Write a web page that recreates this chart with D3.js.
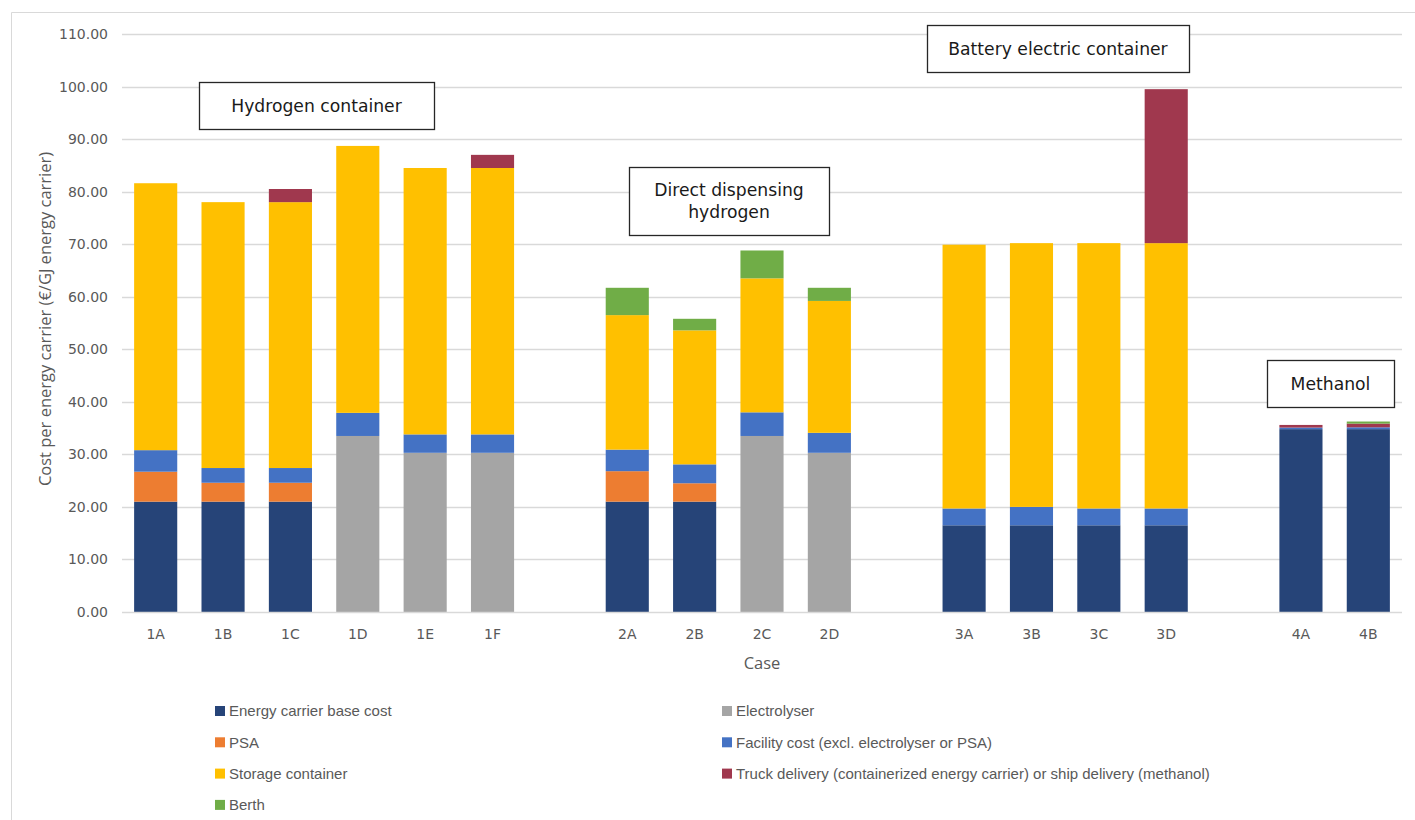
<!DOCTYPE html>
<html>
<head>
<meta charset="utf-8">
<script src="https://cdn.jsdelivr.net/npm/d3@7"></script>
<style>
  html, body { margin: 0; padding: 0; background: #fff; }
  svg { display: block; }
</style>
</head>
<body>
<svg id="chart" width="1415" height="820"></svg>
<script>
// Case groups (a blank slot separates each group on the x axis)
const groups = [
  ["1A", "1B", "1C", "1D", "1E", "1F"],
  ["2A", "2B", "2C", "2D"],
  ["3A", "3B", "3C", "3D"],
  ["4A", "4B"]
];
const cases = groups.flat();

// Cost components per case, €/GJ energy carrier
const baseCost     = [21.0, 21.0, 21.0, 0, 0, 0,   21.0, 21.0, 0, 0,   16.5, 16.5, 16.5, 16.5,   34.8, 34.8];
const electrolyser = [0, 0, 0, 33.5, 30.3, 30.3,   0, 0, 33.5, 30.3,   0, 0, 0, 0,   0, 0];
const psa          = [5.7, 3.6, 3.6, 0, 0, 0,      5.8, 3.5, 0, 0,     0, 0, 0, 0,   0, 0];
const facility     = [4.1, 2.8, 2.8, 4.4, 3.5, 3.5,   4.1, 3.6, 4.5, 3.8,   3.2, 3.5, 3.2, 3.2,   0.3, 0.35];
const storage      = [50.8, 50.6, 50.6, 50.8, 50.7, 50.7,   25.6, 25.5, 25.5, 25.1,   50.2, 50.2, 50.5, 50.5,   0, 0];
const truck        = [0, 0, 2.5, 0, 0, 2.5,   0, 0, 0, 0,   0, 0, 0, 29.3,   0.5, 0.7];
const berth        = [0, 0, 0, 0, 0, 0,   5.2, 2.2, 5.3, 2.5,   0, 0, 0, 0,   0, 0.4];

const seriesNames = [
  "Energy carrier base cost",
  "Electrolyser",
  "PSA",
  "Facility cost (excl. electrolyser or PSA)",
  "Storage container",
  "Truck delivery (containerized energy carrier) or ship delivery (methanol)",
  "Berth"
];
const seriesValues = [baseCost, electrolyser, psa, facility, storage, truck, berth];
const seriesColors = ["#264478", "#A5A5A5", "#ED7D31", "#4472C4", "#FFC000", "#A0384E", "#70AD47"];

const yTicks = [0, 10, 20, 30, 40, 50, 60, 70, 80, 90, 100, 110];

const groupLabels = [
  { lines: ["Hydrogen container"], box: [199, 82, 235, 47] },
  { lines: ["Direct dispensing", "hydrogen"], box: [629, 167, 200, 68] },
  { lines: ["Battery electric container"], box: [927, 25, 262, 47] },
  { lines: ["Methanol"], box: [1267, 360, 127, 47] }
];

// ---- layout ----
const svg = d3.select("#chart");
const plot = { left: 122, right: 1402, top: 34, bottom: 612 };

// slot domain: cases with a spacer between groups
const slots = [];
groups.forEach((g, i) => {
  g.forEach(c => slots.push(c));
  if (i < groups.length - 1) slots.push("gap" + i);
});

const x = d3.scaleBand().domain(slots).range([plot.left, plot.right]).paddingInner(0.36).paddingOuter(0.18);
const y = d3.scaleLinear().domain([0, 110]).range([plot.bottom, plot.top]);

// outer chart frame
svg.append("path")
  .attr("d", "M11.5,820 V12.5 H1415")
  .attr("fill", "none").attr("stroke", "#d9d9d9").attr("stroke-width", 1);

// gridlines
svg.append("g").selectAll("line").data(yTicks.filter(t => t > 0)).join("line")
  .attr("x1", plot.left).attr("x2", plot.right)
  .attr("y1", d => Math.round(y(d)) + 0.5).attr("y2", d => Math.round(y(d)) + 0.5)
  .attr("stroke", "#d9d9d9").attr("stroke-width", 1.3);

// y axis labels
const yAxis = d3.axisLeft(y).tickValues(yTicks).tickFormat(d3.format(".2f")).tickSize(0).tickPadding(14);
const gy = svg.append("g").attr("transform", `translate(${plot.left},0)`).call(yAxis);
gy.select(".domain").remove();
gy.selectAll("text").attr("fill", "#595959").style("font-family", "DejaVu Sans, Verdana, sans-serif").style("font-size", "14px");

// stacked data
const table = cases.map((c, i) => {
  const row = { case: c };
  seriesNames.forEach((n, k) => { row[n] = seriesValues[k][i]; });
  return row;
});
const stacked = d3.stack().keys(seriesNames)(table);

svg.append("g").selectAll("g").data(stacked).join("g")
  .attr("fill", (d, i) => seriesColors[i])
  .selectAll("rect").data(d => d.filter(p => p[1] - p[0] > 0)).join("rect")
  .attr("x", d => x(d.data.case))
  .attr("width", x.bandwidth())
  .attr("y", d => y(d[1]))
  .attr("height", d => y(d[0]) - y(d[1]));

// x axis baseline and labels
const xAxis = d3.axisBottom(x).tickSize(0).tickPadding(17).tickFormat(d => d.startsWith("gap") ? "" : d);
const gx = svg.append("g").attr("transform", `translate(0,${plot.bottom})`).call(xAxis);
gx.select(".domain").attr("stroke", "#d9d9d9").attr("stroke-width", 1.3).attr("d", `M${plot.left},0.5H${plot.right}`);
gx.selectAll("text").attr("fill", "#595959").style("font-family", "DejaVu Sans, Verdana, sans-serif").style("font-size", "14px");

// axis titles
svg.append("text")
  .attr("x", (plot.left + plot.right) / 2).attr("y", 669)
  .attr("text-anchor", "middle").attr("fill", "#595959")
  .style("font-family", "Open Sans, sans-serif").style("font-size", "16.5px")
  .text("Case");

svg.append("text")
  .attr("transform", `translate(51,${(plot.top + plot.bottom) / 2 - 4}) rotate(-90)`)
  .attr("text-anchor", "middle").attr("fill", "#595959")
  .style("font-family", "Open Sans, sans-serif").style("font-size", "16.5px")
  .text("Cost per energy carrier (€/GJ energy carrier)");

// group annotation boxes
const ann = svg.append("g").selectAll("g").data(groupLabels).join("g");
ann.append("rect")
  .attr("x", d => d.box[0] + 0.5).attr("y", d => d.box[1] + 0.5)
  .attr("width", d => d.box[2]).attr("height", d => d.box[3])
  .attr("fill", "#fff").attr("stroke", "#262626").attr("stroke-width", 1.3);
ann.each(function(d) {
  const g = d3.select(this);
  const cx = d.box[0] + d.box[2] / 2;
  const cy = d.box[1] + d.box[3] / 2;
  const lh = 22;
  d.lines.forEach((t, i) => {
    g.append("text")
      .attr("x", cx)
      .attr("y", cy + (i - (d.lines.length - 1) / 2) * lh)
      .attr("dy", "0.36em")
      .attr("text-anchor", "middle")
      .attr("fill", "#1a1a1a")
      .style("font-family", "DejaVu Sans, Verdana, sans-serif").style("font-size", "17.2px")
      .text(t);
  });
});

// legend (two columns, row-major)
const legend = svg.append("g").selectAll("g").data(seriesNames).join("g")
  .attr("transform", (d, i) => `translate(${i % 2 === 0 ? 215 : 722},${711 + Math.floor(i / 2) * 31.3})`);
legend.append("rect").attr("x", 0).attr("y", -5).attr("width", 10).attr("height", 10)
  .attr("fill", (d, i) => seriesColors[i]);
legend.append("text").attr("x", 14).attr("dy", "0.35em").attr("fill", "#595959")
  .style("font-family", "Liberation Sans, Arial, sans-serif").style("font-size", "15px")
  .text(d => d);
</script>
</body>
</html>
